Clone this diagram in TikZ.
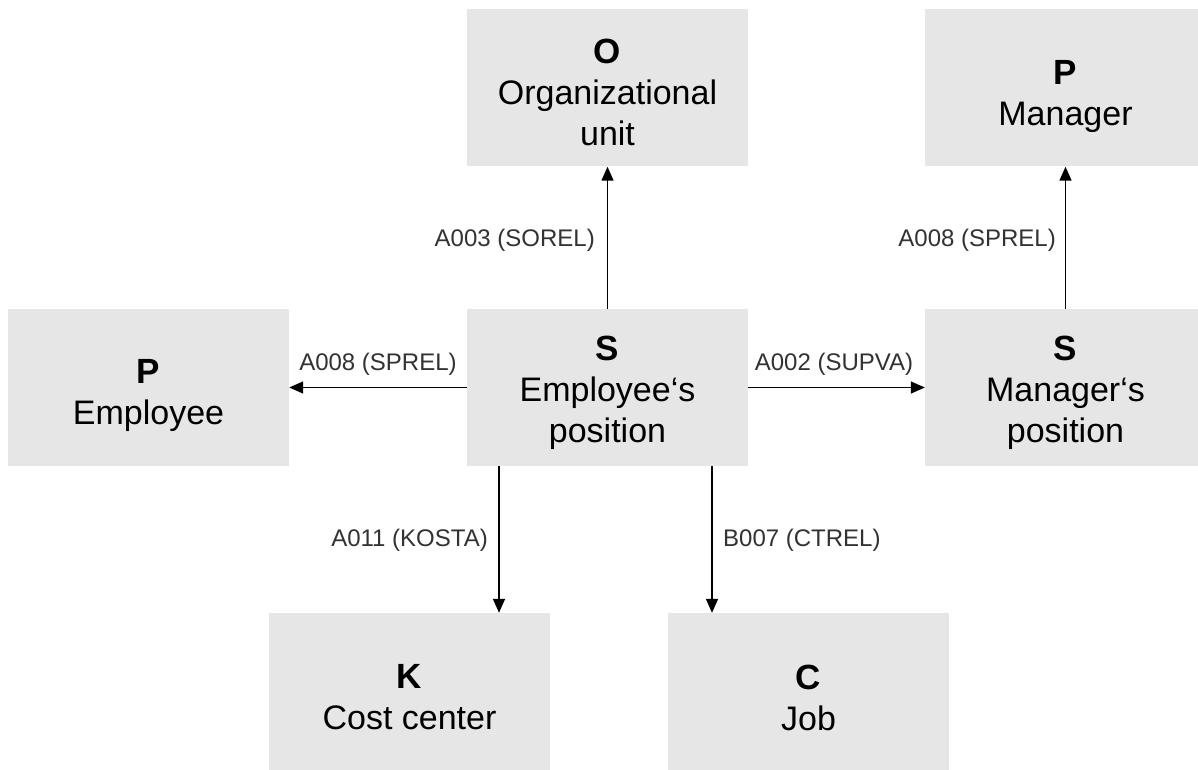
\documentclass[tikz,border=0pt]{standalone}
\usepackage{fontspec}
\setmainfont{Liberation Sans}
\usetikzlibrary{arrows.meta,calc}
\definecolor{boxgray}{RGB}{230,230,230}
\definecolor{labelgray}{RGB}{50,50,50}
\newcommand{\otype}[1]{{\fontsize{35}{43}\selectfont\bfseries #1}}
\begin{document}
\begin{tikzpicture}[x=1pt,y=-1pt,
  box/.style={fill=boxgray, draw=none, minimum width=281pt, minimum height=157pt, inner sep=0pt},
  boxtext/.style={inner sep=0pt, align=center, font=\fontsize{34}{41}\selectfont, text=black},
  rel/.style={-{Triangle[length=14pt,width=12pt]}, line width=1.4pt},
  lbl/.style={font=\fontsize{24}{28}\selectfont, text=labelgray, inner sep=0pt}]
  \clip (0,0) rectangle (1198,770);
  \fill[white] (0,0) rectangle (1198,770);

  % object boxes
  \node[box] (org)  at (607.5,88)    {};
  \node[box] (mgr)  at (1065.5,88)   {};
  \node[box] (emp)  at (148.5,387.5) {};
  \node[box] (pos)  at (607.5,387.5) {};
  \node[box] (mpos) at (1065.5,387.5){};
  \node[box] (cc)   at (409.5,691.5) {};
  \node[box] (job)  at (808.5,691.5) {};

  % object type and name inside each box
  \node[boxtext] (org-t)  at ([yshift=-4pt]org.center)  {\otype{O}\\Organizational\\unit};
  \node[boxtext] (mgr-t)  at ([yshift=-8pt]mgr.center)  {\otype{P}\\Manager};
  \node[boxtext] (emp-t)  at ([yshift=-8pt]emp.center)  {\otype{P}\\Employee};
  \node[boxtext] (pos-t)  at ([yshift=-5pt]pos.center)  {\otype{S}\\Employee‘s\\position};
  \node[boxtext] (mpos-t) at ([yshift=-5pt]mpos.center) {\otype{S}\\Manager‘s\\position};
  \node[boxtext] (cc-t)   at ([yshift=-6pt]cc.center)   {\otype{K}\\Cost center};
  \node[boxtext] (job-t)  at ([yshift=-6pt]job.center)  {\otype{C}\\Job};

  % relationships
  \draw[rel] (pos.north) -- (org.south);
  \draw[rel] (mpos.north) -- (mgr.south);
  \draw[rel] (pos.west) -- (emp.east);
  \draw[rel] (pos.east) -- (mpos.west);
  \draw[rel] ([xshift=-108.5pt]pos.south) -- ([xshift=-108.5pt]pos.south |- cc.north);
  \draw[rel] ([xshift=104.5pt]pos.south) -- ([xshift=104.5pt]pos.south |- job.north);

  % relationship labels
  \node[lbl, anchor=east]  (l1) at (595,240)  {A003 (SOREL)};
  \node[lbl, anchor=east]  (l2) at (1056,240) {A008 (SPREL)};
  \node[lbl]               (l3) at (378,364)  {A008 (SPREL)};
  \node[lbl]               (l4) at (834,364)  {A002 (SUPVA)};
  \node[lbl, anchor=east]  (l5) at (488,540)  {A011 (KOSTA)};
  \node[lbl, anchor=west]  (l6) at (723,540)  {B007 (CTREL)};
\end{tikzpicture}
\end{document}
